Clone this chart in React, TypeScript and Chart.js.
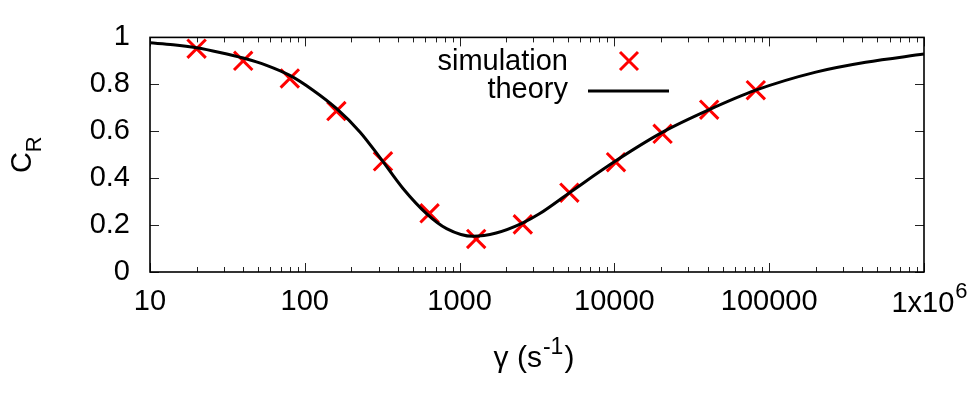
import React, { useEffect, useRef } from "react";
import { Chart, registerables } from "chart.js";

Chart.register(...registerables);

// ---- data ----
const simX = [20, 40, 80, 160, 320, 640, 1280, 2560, 5120, 10240, 20480, 40960, 81920];
const simY = [0.952, 0.9, 0.825, 0.686, 0.472, 0.25, 0.141, 0.203, 0.338, 0.468, 0.589, 0.692, 0.775];

const theoryX = [10, 14.1, 20, 28.3, 40, 56.6, 80, 113, 160, 227, 312, 431, 611, 824, 1221, 1723, 2505, 3276, 5128, 10270, 20500, 41000, 81900, 200000, 420000, 1000000];
const theoryY = [0.977, 0.969, 0.956, 0.936, 0.912, 0.881, 0.838, 0.775, 0.697, 0.597, 0.48, 0.356, 0.249, 0.185, 0.152, 0.166, 0.206, 0.248, 0.338, 0.475, 0.596, 0.692, 0.775, 0.852, 0.894, 0.929];

const xTicks = [10, 100, 1000, 10000, 100000, 1000000];
const xTickLabels = ["10", "100", "1000", "10000", "100000", "1x10"];
const xLastExponent = "6";
const yTicks = [0, 0.2, 0.4, 0.6, 0.8, 1];
const yTickLabels = ["0", "0.2", "0.4", "0.6", "0.8", "1"];
const legendLabels = ["simulation", "theory"];
const xTitleParts = ["γ (s", "-1", ")"];
const yTitleParts = ["C", "R"];

const FONT = '"Liberation Sans", Arial, Helvetica, sans-serif';
const FS = 29;
const SUB = 22;
const TFS = 30;

const decorPlugin = {
  id: "gnuplotDecor",
  afterDatasetsDraw(chart: any) {
    const { ctx, chartArea: a, scales } = chart;
    const xs = scales.x;
    const ys = scales.y;
    ctx.save();
    ctx.strokeStyle = "#222";
    ctx.lineWidth = 1;
    const seg = (x1: number, y1: number, x2: number, y2: number) => {
      ctx.beginPath();
      ctx.moveTo(x1, y1);
      ctx.lineTo(x2, y2);
      ctx.stroke();
    };
    for (let e = 1; e <= 6; e++) {
      for (let m = 1; m <= 9; m++) {
        const v = m * Math.pow(10, e);
        if (v > 1000000) break;
        const px = Math.round(xs.getPixelForValue(v)) + 0.5;
        const len = m === 1 ? 9 : 5;
        seg(px, a.bottom, px, a.bottom - len);
        seg(px, a.top, px, a.top + len);
      }
    }
    for (const v of yTicks) {
      const py = Math.round(ys.getPixelForValue(v)) + 0.5;
      seg(a.left, py, a.left + 9, py);
      seg(a.right, py, a.right - 9, py);
    }
    ctx.strokeStyle = "#000";
    ctx.lineWidth = 1.6;
    ctx.strokeRect(a.left, a.top, a.right - a.left, a.bottom - a.top);
    ctx.restore();
  },
  afterDraw(chart: any) {
    const { ctx, chartArea: a, scales } = chart;
    const xs = scales.x;
    ctx.save();
    ctx.fillStyle = "#000";

    // last x tick label: 1x10^6
    {
      const px = xs.getPixelForValue(xTicks[xTicks.length - 1]);
      ctx.font = `${FS}px ${FONT}`;
      const w1 = ctx.measureText(xTickLabels[xTickLabels.length - 1]).width;
      ctx.font = `${SUB}px ${FONT}`;
      const w2 = ctx.measureText(xLastExponent).width;
      const x0 = px + 5 - (w1 + w2) / 2;
      ctx.textAlign = "left";
      ctx.textBaseline = "alphabetic";
      ctx.font = `${FS}px ${FONT}`;
      ctx.fillText(xTickLabels[xTickLabels.length - 1], x0, 312);
      ctx.font = `${SUB}px ${FONT}`;
      ctx.fillText(xLastExponent, x0 + w1 + 1, 298);
    }

    // x title: γ (s^-1)
    {
      ctx.textAlign = "left";
      ctx.textBaseline = "alphabetic";
      ctx.font = `${TFS}px ${FONT}`;
      const wA = ctx.measureText(xTitleParts[0]).width;
      const wC = ctx.measureText(xTitleParts[2]).width;
      ctx.font = `${SUB + 1}px ${FONT}`;
      const wB = ctx.measureText(xTitleParts[1]).width;
      const cx = (a.left + a.right) / 2 - 3;
      let x = cx - (wA + wB + wC + 2) / 2;
      const base = 367;
      ctx.font = `${TFS}px ${FONT}`;
      ctx.fillText(xTitleParts[0], x, base);
      x += wA + 1;
      ctx.font = `${SUB + 1}px ${FONT}`;
      ctx.fillText(xTitleParts[1], x, base - 13);
      x += wB + 1;
      ctx.font = `${TFS}px ${FONT}`;
      ctx.fillText(xTitleParts[2], x, base);
    }

    // y title: C_R rotated
    {
      ctx.font = `${FS}px ${FONT}`;
      const wC = ctx.measureText(yTitleParts[0]).width;
      ctx.font = `${SUB}px ${FONT}`;
      const wR = ctx.measureText(yTitleParts[1]).width;
      const cy = (a.top + a.bottom) / 2;
      ctx.translate(31, cy + (wC + wR) / 2);
      ctx.rotate(-Math.PI / 2);
      ctx.textAlign = "left";
      ctx.textBaseline = "alphabetic";
      ctx.font = `${FS}px ${FONT}`;
      ctx.fillText(yTitleParts[0], 0, 0);
      ctx.font = `${SUB}px ${FONT}`;
      ctx.fillText(yTitleParts[1], wC, 10);
    }
    ctx.restore();

    // legend
    ctx.save();
    ctx.font = `${FS}px ${FONT}`;
    ctx.fillStyle = "#000";
    ctx.textAlign = "right";
    ctx.textBaseline = "alphabetic";
    ctx.fillText(legendLabels[0], 568, 70);
    ctx.fillText(legendLabels[1], 568, 98);
    ctx.strokeStyle = "#ff0000";
    ctx.lineWidth = 3;
    const mx = 629, my = 61, h = 9;
    ctx.beginPath();
    ctx.moveTo(mx - h, my - h);
    ctx.lineTo(mx + h, my + h);
    ctx.moveTo(mx + h, my - h);
    ctx.lineTo(mx - h, my + h);
    ctx.stroke();
    ctx.strokeStyle = "#000";
    ctx.lineWidth = 3;
    ctx.beginPath();
    ctx.moveTo(588, 91);
    ctx.lineTo(669, 91);
    ctx.stroke();
    ctx.restore();
  },
};

export default function App() {
  const canvasRef = useRef<HTMLCanvasElement | null>(null);

  useEffect(() => {
    const canvas = canvasRef.current;
    if (!canvas) return;
    const chart = new Chart(canvas, {
      type: "scatter",
      data: {
        datasets: [
          {
            label: legendLabels[1],
            data: theoryX.map((x, i) => ({ x, y: theoryY[i] })),
            showLine: true,
            borderColor: "#000000",
            backgroundColor: "#000000",
            borderWidth: 3,
            pointRadius: 0,
            cubicInterpolationMode: "monotone",
            order: 0,
          },
          {
            label: legendLabels[0],
            data: simX.map((x, i) => ({ x, y: simY[i] })),
            showLine: false,
            pointStyle: "crossRot",
            pointRadius: 13,
            pointBorderWidth: 3,
            borderColor: "#ff0000",
            backgroundColor: "#ff0000",
            order: 1,
          },
        ],
      },
      options: {
        responsive: false,
        animation: false,
        layout: { padding: { top: 37, right: 55, left: 0, bottom: 0 } },
        plugins: {
          legend: { display: false },
          tooltip: { enabled: false },
        },
        scales: {
          x: {
            type: "logarithmic",
            min: 10,
            max: 1000000,
            afterBuildTicks: (scale: any) => {
              scale.ticks = xTicks.map((v) => ({ value: v }));
            },
            afterFit: (scale: any) => {
              scale.height = 128;
            },
            grid: { display: false, drawTicks: false },
            border: { display: false },
            ticks: {
              autoSkip: false,
              maxRotation: 0,
              minRotation: 0,
              padding: 13,
              color: "#000",
              font: { family: FONT, size: FS },
              callback: (value: any) => {
                const i = xTicks.indexOf(Number(value));
                if (i < 0 || i === xTicks.length - 1) return "";
                return xTickLabels[i];
              },
            },
          },
          y: {
            type: "linear",
            min: 0,
            max: 1,
            afterBuildTicks: (scale: any) => {
              scale.ticks = yTicks.map((v) => ({ value: v }));
            },
            afterFit: (scale: any) => {
              scale.width = 150;
            },
            grid: { display: false, drawTicks: false },
            border: { display: false },
            ticks: {
              padding: 20,
              color: "#000",
              font: { family: FONT, size: FS },
              callback: (value: any) => {
                let best = 0;
                yTicks.forEach((t, i) => {
                  if (Math.abs(t - Number(value)) < Math.abs(yTicks[best] - Number(value))) best = i;
                });
                return yTickLabels[best];
              },
            },
          },
        },
      },
      plugins: [decorPlugin],
    });
    return () => chart.destroy();
  }, []);

  return (
    <div style={{ position: "absolute", left: 0, top: 0, width: 979, height: 400, background: "#fff" }}>
      <canvas ref={canvasRef} width={979} height={400} style={{ display: "block" }} />
    </div>
  );
}
